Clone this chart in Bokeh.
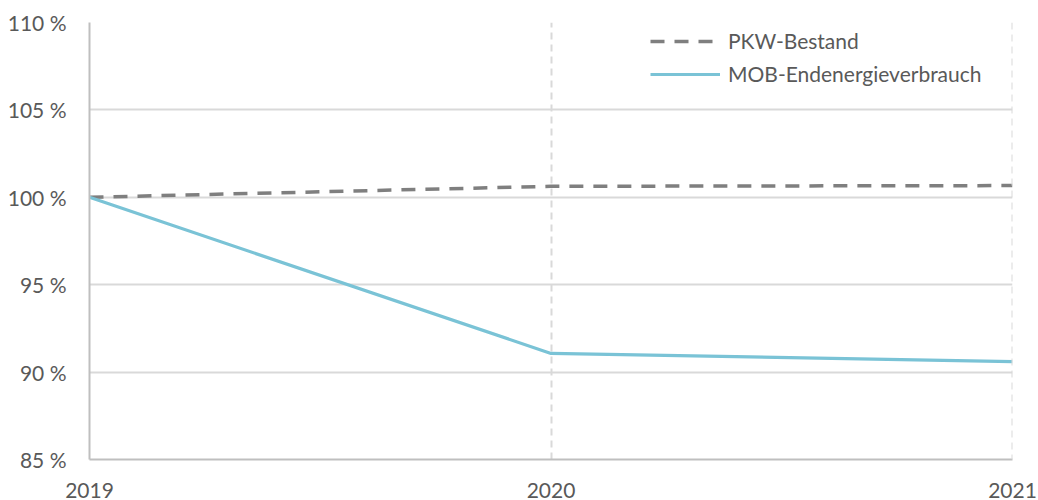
from bokeh.plotting import figure
from bokeh.models import Range1d, FixedTicker, Legend, LegendItem, Span
from bokeh.embed import file_html
from bokeh.resources import INLINE

years = [2019, 2020, 2021]
pkw_bestand = [100.0, 100.63, 100.67]
mob_endenergie = [100.0, 91.07, 90.6]
y_ticks = [85, 90, 95, 100, 105, 110]
y_labels = {t: f"{t} %" for t in y_ticks}
x_labels = {y: str(y) for y in years}

FONT = "Lato"
TXT = "#595959"
GRID = "#d9d9d9"

p = figure(width=1038, height=500, output_backend="svg", toolbar_location=None,
           x_range=Range1d(2019, 2021), y_range=Range1d(85, 110),
           min_border_left=89, min_border_right=26, min_border_top=22, min_border_bottom=37)
p.outline_line_color = None

p.ygrid.grid_line_color = GRID
p.ygrid.grid_line_width = 2
p.xgrid.grid_line_color = GRID
p.xgrid.grid_line_width = 2
p.xgrid.grid_line_dash = "7 5"
p.add_layout(Span(location=years[-1], dimension="height", line_color=GRID,
                  line_width=2, line_dash="7 5"))

r1 = p.line(years, pkw_bestand, line_color="#7f7f7f", line_width=3.5, line_dash="14 10")
r2 = p.line(years, mob_endenergie, line_color="#7ac3d6", line_width=3.2)

p.xaxis.ticker = FixedTicker(ticks=years)
p.xaxis.major_label_overrides = x_labels
p.yaxis.ticker = FixedTicker(ticks=y_ticks)
p.yaxis.major_label_overrides = y_labels
for ax in (p.xaxis[0], p.yaxis[0]):
    ax.axis_line_color = "#bfbfbf"
    ax.axis_line_width = 2
    ax.major_tick_line_color = None
    ax.minor_tick_line_color = None
    ax.major_label_text_font = FONT
    ax.major_label_text_font_size = "21px"
    ax.major_label_text_color = TXT
p.xaxis.major_label_standoff = 17
p.yaxis.major_label_standoff = 17

legend = Legend(items=[LegendItem(label="PKW-Bestand", renderers=[r1]),
                       LegendItem(label="MOB-Endenergieverbrauch", renderers=[r2])],
                location=(561, 373))
legend.border_line_color = None
legend.background_fill_alpha = 0
legend.label_text_font = FONT
legend.label_text_font_size = "21px"
legend.label_text_color = TXT
legend.glyph_width = 70
legend.glyph_height = 24
legend.label_height = 24
legend.spacing = 8
legend.margin = 0
legend.padding = 0
legend.label_standoff = 8
p.add_layout(legend)

open("out.html", "w").write(file_html(p, INLINE))
